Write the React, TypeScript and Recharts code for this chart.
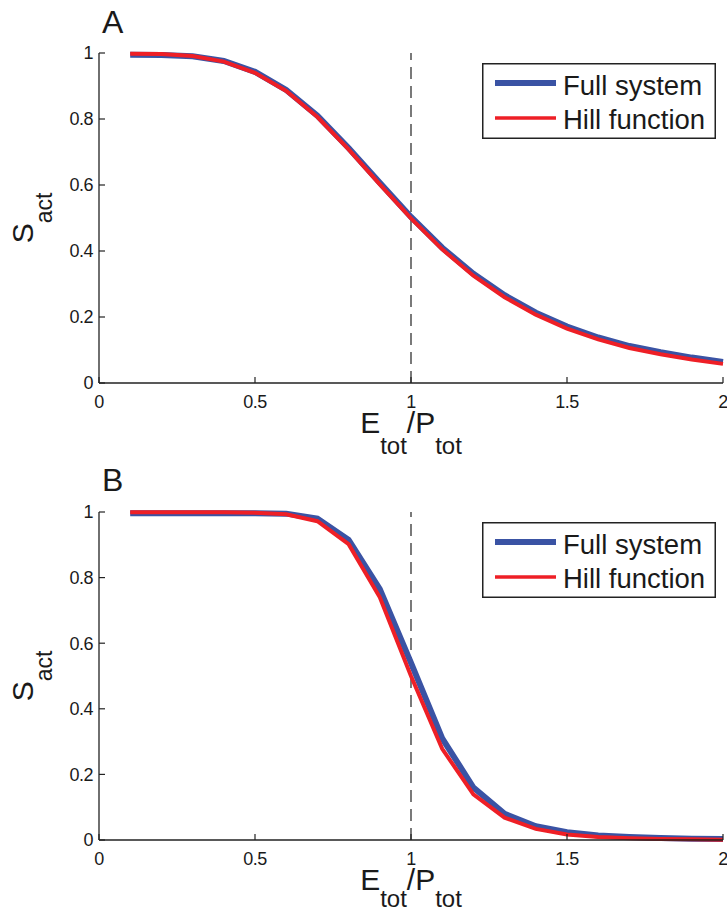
import React from 'react';
import { LineChart, Line, XAxis, YAxis, ReferenceLine, Legend } from 'recharts';

const xValues = [0.1, 0.2, 0.3, 0.4, 0.5, 0.6, 0.7, 0.8, 0.9, 1.0, 1.1, 1.2, 1.3, 1.4, 1.5, 1.6, 1.7, 1.8, 1.9, 2.0];
const fullA = [0.995, 0.994, 0.99, 0.976, 0.943, 0.888, 0.81, 0.712, 0.607, 0.503, 0.41, 0.331, 0.266, 0.213, 0.171, 0.138, 0.112, 0.093, 0.077, 0.064];
const hillA = [0.998, 0.997, 0.991, 0.974, 0.94, 0.885, 0.806, 0.708, 0.602, 0.499, 0.405, 0.325, 0.26, 0.207, 0.165, 0.132, 0.106, 0.087, 0.071, 0.058];
const fullB = [0.996, 0.996, 0.996, 0.996, 0.996, 0.995, 0.98, 0.915, 0.765, 0.54, 0.31, 0.16, 0.08, 0.042, 0.024, 0.014, 0.009, 0.006, 0.004, 0.003];
const hillB = [0.999, 0.999, 0.999, 0.999, 0.998, 0.993, 0.972, 0.902, 0.74, 0.5, 0.278, 0.139, 0.068, 0.034, 0.017, 0.009, 0.005, 0.003, 0.002, 0.001];

const xTicks = [0, 0.5, 1, 1.5, 2];
const yTicks = [0, 0.2, 0.4, 0.6, 0.8, 1];
const seriesNames = ['Full system', 'Hill function'];

const BLUE = '#3A53A4';
const RED = '#EE1F26';
const AXIS = '#222';
const FONT = '"Liberation Sans", Arial, Helvetica, sans-serif';

const tickStyle = { fontSize: 18, fill: '#1a1a1a', fontFamily: FONT, letterSpacing: -0.5 };

const LegendBox = () => (
  <svg width={234} height={76} style={{ display: 'block' }}>
    <rect x={0.75} y={0.75} width={232.5} height={74.5} fill="#fff" stroke={AXIS} strokeWidth={1.5} />
    <line x1={13} x2={74} y1={20} y2={20} stroke={BLUE} strokeWidth={6} />
    <line x1={13} x2={74} y1={55} y2={55} stroke={RED} strokeWidth={3.5} />
    <text x={81} y={32} fontSize={27.5} fontFamily={FONT} fill="#1a1a1a">{seriesNames[0]}</text>
    <text x={81} y={66} fontSize={27.5} fontFamily={FONT} fill="#1a1a1a">{seriesNames[1]}</text>
  </svg>
);

const YLabel = (props: any) => {
  const vb = props.viewBox || {};
  const cx = 33;
  const cy = vb.y + vb.height / 2;
  return (
    <text x={cx} y={cy} transform={`rotate(-90, ${cx}, ${cy})`} textAnchor="middle" fontFamily={FONT} fill="#1a1a1a">
      <tspan fontSize={30}>S</tspan>
      <tspan fontSize={23} dy={19}>act</tspan>
    </text>
  );
};

const makeXLabel = (base: number, sub: number) => (props: any) => {
  const vb = props.viewBox || {};
  const cx = vb.x + vb.width / 2;
  const cy = vb.y + base;
  return (
    <text x={cx} y={cy} textAnchor="middle" fontFamily={FONT} fill="#1a1a1a">
      <tspan fontSize={30}>E</tspan>
      <tspan fontSize={24} dy={sub}>tot</tspan>
      <tspan fontSize={30} dy={-sub}>/P</tspan>
      <tspan fontSize={24} dy={sub}>tot</tspan>
    </text>
  );
};

type PanelProps = {
  full: number[];
  hill: number[];
  height: number;
  top: number;
  xAxisHeight: number;
  labelBase: number;
  labelSub: number;
  legendTop: number;
};

const Panel = ({ full, hill, height, top, xAxisHeight, labelBase, labelSub, legendTop }: PanelProps) => {
  const data = xValues.map((x, i) => ({ x, full: full[i], hill: hill[i] }));
  return (
    <LineChart width={727} height={height} data={data} margin={{ top, right: 4, left: 0, bottom: 0 }}>
      <XAxis
        dataKey="x"
        type="number"
        domain={[0, 2]}
        ticks={xTicks}
        interval={0}
        height={xAxisHeight}
        tickSize={-6}
        tickMargin={18}
        tick={tickStyle}
        axisLine={{ stroke: AXIS, strokeWidth: 1.3 }}
        tickLine={{ stroke: AXIS, strokeWidth: 1.2 }}
        label={{ content: makeXLabel(labelBase, labelSub) }}
      />
      <XAxis
        xAxisId="top"
        orientation="top"
        type="number"
        domain={[0, 2]}
        ticks={xTicks}
        interval={0}
        height={0}
        tickSize={-6}
        tickFormatter={() => ''}
        axisLine={{ stroke: AXIS, strokeWidth: 1.3 }}
        tickLine={{ stroke: AXIS, strokeWidth: 1.2 }}
      />
      <YAxis
        type="number"
        domain={[0, 1]}
        ticks={yTicks}
        interval={0}
        width={99}
        tickSize={-6}
        tickMargin={12}
        tick={tickStyle}
        axisLine={{ stroke: AXIS, strokeWidth: 1.3 }}
        tickLine={{ stroke: AXIS, strokeWidth: 1.2 }}
        label={{ content: YLabel }}
      />
      <YAxis
        yAxisId="right"
        orientation="right"
        type="number"
        domain={[0, 1]}
        ticks={yTicks}
        interval={0}
        width={0}
        tickSize={-6}
        tickFormatter={() => ''}
        axisLine={{ stroke: AXIS, strokeWidth: 1.3 }}
        tickLine={{ stroke: AXIS, strokeWidth: 1.2 }}
      />
      <ReferenceLine x={1} stroke="#222" strokeWidth={1.2} strokeDasharray="12 7" />
      <Line type="linear" dataKey="full" name={seriesNames[0]} stroke={BLUE} strokeWidth={6} dot={false} isAnimationActive={false} />
      <Line type="linear" dataKey="hill" name={seriesNames[1]} stroke={RED} strokeWidth={4} dot={false} isAnimationActive={false} />
      <Legend
        layout="vertical"
        verticalAlign="middle"
        align="center"
        content={() => <LegendBox />}
        wrapperStyle={{ position: 'absolute', left: 482, top: legendTop, width: 234, height: 76 }}
      />
    </LineChart>
  );
};

const panelLabel = (text: string, top: number) => (
  <div
    style={{
      position: 'absolute',
      left: 102,
      top,
      fontFamily: FONT,
      fontSize: 32,
      lineHeight: 1,
      color: '#1a1a1a',
    }}
  >
    {text}
  </div>
);

export default function App() {
  return (
    <div style={{ position: 'absolute', left: 0, top: 0, width: 727, height: 913, background: '#fff', overflow: 'hidden' }}>
      {panelLabel('A', 6)}
      {panelLabel('B', 464)}
      <div style={{ position: 'absolute', left: 0, top: 0 }}>
        <Panel full={fullA} hill={hillA} height={460} top={53} xAxisHeight={77} labelBase={50} labelSub={21} legendTop={63} />
      </div>
      <div style={{ position: 'absolute', left: 0, top: 460 }}>
        <Panel full={fullB} hill={hillB} height={453} top={52} xAxisHeight={73} labelBase={50} labelSub={17} legendTop={62} />
      </div>
    </div>
  );
}
